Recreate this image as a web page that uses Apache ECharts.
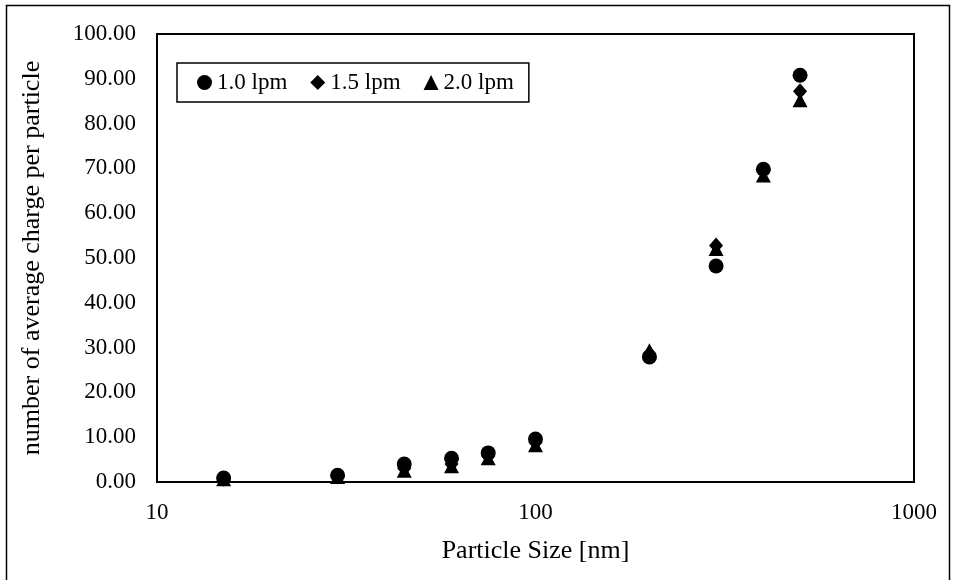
<!DOCTYPE html>
<html>
<head>
<meta charset="utf-8">
<script src="https://cdn.jsdelivr.net/npm/echarts@6/dist/echarts.min.js"></script>
<style>
  html, body { margin: 0; padding: 0; background: #fff; }
  #chart { width: 956px; height: 580px; }
</style>
</head>
<body>
<div id="chart"></div>
<script>
// Particle sizes [nm]
const particleSize = [15, 30, 45, 60, 75, 100, 200, 300, 400, 500];
// Average charge per particle at each flow rate
const flow10 = [0.9, 1.5, 4.0, 5.3, 6.5, 9.6, 27.9, 48.2, 69.8, 90.8];
const flow15 = [0.7, 1.3, 3.0, 4.0, 5.8, 8.8, 28.6, 52.8, 69.5, 87.2];
const flow20 = [0.6, 1.1, 2.5, 3.5, 5.3, 8.2, 29.4, 52.0, 68.4, 85.2];
const seriesNames = ['1.0 lpm', '1.5 lpm', '2.0 lpm'];
const xTicks = [10, 100, 1000];

const FONT = '"Liberation Serif", "Times New Roman", serif';

function pairs(ys) {
  return particleSize.map((x, i) => [x, ys[i]]);
}

const chart = echarts.init(document.getElementById('chart'), null, { renderer: 'canvas' });

const markers = [
  { symbol: 'circle', size: 15 },
  { symbol: 'diamond', size: [14, 16] },
  { symbol: 'triangle', size: [15, 14] }
];
const values = [flow10, flow15, flow20];

chart.setOption({
  animation: false,
  backgroundColor: '#fff',
  graphic: [{
    type: 'rect',
    shape: { x: 6.5, y: 5.5, width: 943, height: 590 },
    style: { fill: 'none', stroke: '#000', lineWidth: 1.5 },
    silent: true
  }],
  grid: {
    left: 157, top: 34, right: 42, bottom: 98,
    show: true, borderColor: '#000', borderWidth: 2, backgroundColor: 'transparent'
  },
  legend: {
    left: 177, top: 63,
    padding: [8, 15, 8, 20],
    borderColor: '#000', borderWidth: 1.5,
    itemWidth: 15, itemHeight: 15, itemGap: 23,
    textStyle: { fontFamily: FONT, fontSize: 23, color: '#000' },
    data: seriesNames
  },
  xAxis: {
    type: 'log', logBase: 10, min: 10, max: 1000,
    name: 'Particle Size [nm]', nameLocation: 'middle', nameGap: 56,
    nameTextStyle: { fontFamily: FONT, fontSize: 26, color: '#000' },
    axisLine: { show: true, lineStyle: { color: '#000', width: 2 } },
    axisTick: { show: false },
    minorTick: { show: false },
    splitLine: { show: false },
    axisLabel: {
      fontFamily: FONT, fontSize: 23, color: '#000', margin: 19,
      formatter: v => (xTicks.indexOf(Math.round(v)) >= 0 ? String(Math.round(v)) : '')
    }
  },
  yAxis: {
    type: 'value', min: 0, max: 100, interval: 10,
    name: 'number of average charge per particle', nameLocation: 'middle', nameGap: 112,
    nameTextStyle: { fontFamily: FONT, fontSize: 26, color: '#000' },
    axisLine: { show: true, lineStyle: { color: '#000', width: 2 } },
    axisTick: { show: false },
    splitLine: { show: false },
    axisLabel: {
      fontFamily: FONT, fontSize: 23, color: '#000', margin: 21,
      formatter: v => v.toFixed(2)
    }
  },
  series: seriesNames.map((name, i) => ({
    name,
    type: 'scatter',
    symbol: markers[i].symbol,
    symbolSize: markers[i].size,
    itemStyle: { color: '#000', opacity: 1 },
    data: pairs(values[i])
  }))
});
</script>
</body>
</html>
